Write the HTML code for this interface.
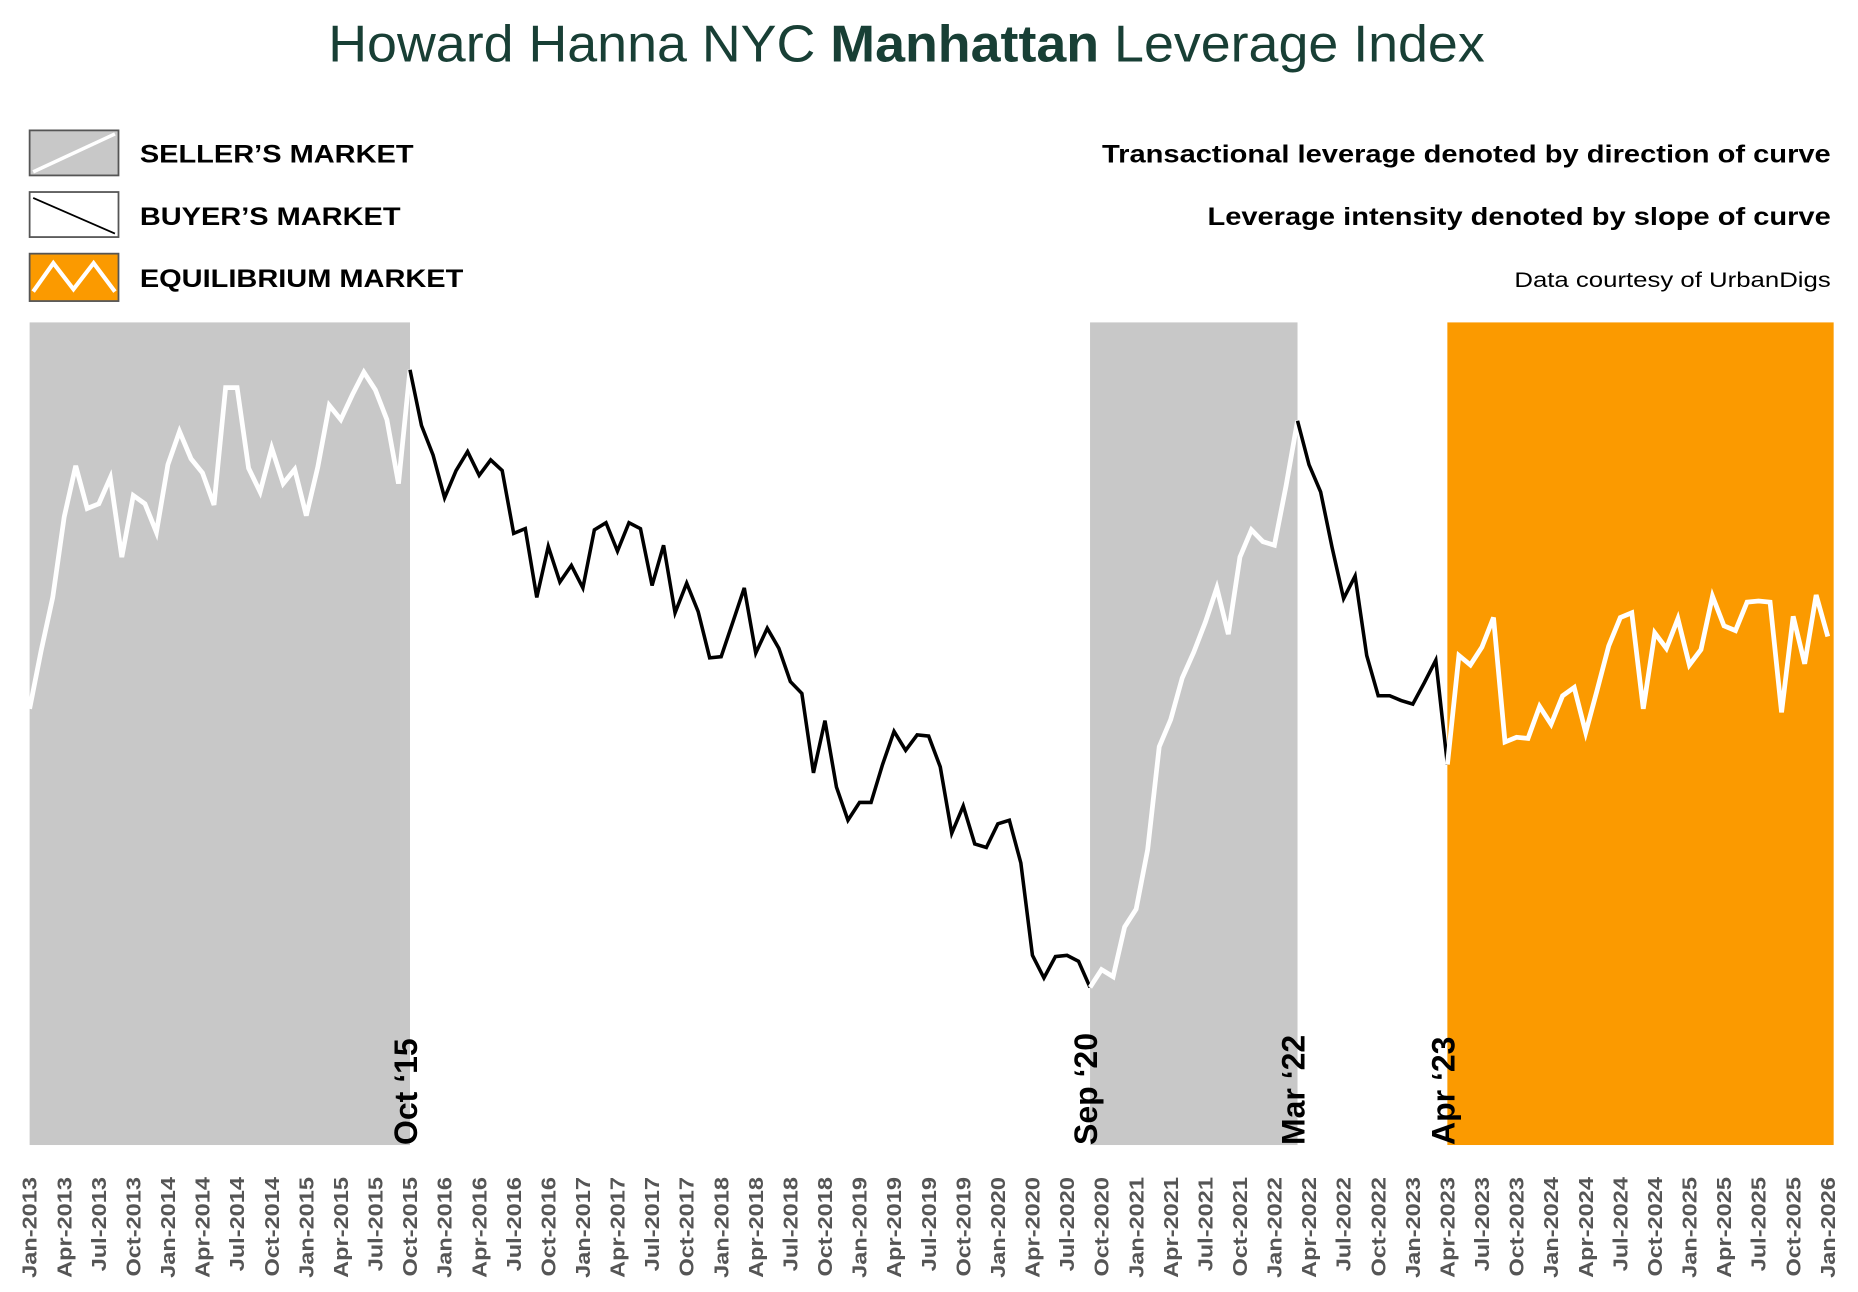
<!DOCTYPE html>
<html><head><meta charset="utf-8"><style>
html,body{margin:0;padding:0;background:#fff;}
svg{display:block;font-family:"Liberation Sans",Arial,sans-serif;}
</style></head><body>
<svg id="chart" width="1858" height="1292" viewBox="0 0 1568 1090" preserveAspectRatio="none" xmlns="http://www.w3.org/2000/svg">
<text x="277" y="52" font-size="44" fill="#183f35" textLength="976" lengthAdjust="spacingAndGlyphs">Howard Hanna NYC <tspan font-weight="bold">Manhattan</tspan> Leverage Index</text>
<g>
 <g>
  <rect x="25" y="110" width="75" height="38" fill="#c8c8c8" stroke="#555" stroke-width="1.5"/>
  <line x1="28" y1="145" x2="97" y2="113" stroke="#fff" stroke-width="3"/>
  <text x="118" y="137" font-size="21" font-weight="bold" textLength="231" lengthAdjust="spacingAndGlyphs">SELLER’S MARKET</text>
 </g>
 <g>
  <rect x="25" y="162" width="75" height="38" fill="#fff" stroke="#555" stroke-width="1.5"/>
  <line x1="28" y1="167" x2="97" y2="197" stroke="#000" stroke-width="1.5"/>
  <text x="118" y="190" font-size="21" font-weight="bold" textLength="220" lengthAdjust="spacingAndGlyphs">BUYER’S MARKET</text>
 </g>
 <g>
  <rect x="25" y="214" width="75" height="40" fill="#fb9a00" stroke="#555" stroke-width="1.5"/>
  <polyline points="28,246 45,222 62,244 79,222 97,246" fill="none" stroke="#fff" stroke-width="3.5"/>
  <text x="118" y="242" font-size="21" font-weight="bold" textLength="273" lengthAdjust="spacingAndGlyphs">EQUILIBRIUM MARKET</text>
 </g>
</g>
<text x="930" y="137" font-size="21" font-weight="bold" textLength="615" lengthAdjust="spacingAndGlyphs">Transactional leverage denoted by direction of curve</text>
<text x="1019" y="190" font-size="21" font-weight="bold" textLength="526" lengthAdjust="spacingAndGlyphs">Leverage intensity denoted by slope of curve</text>
<text x="1278" y="242" font-size="18" textLength="267" lengthAdjust="spacingAndGlyphs">Data courtesy of UrbanDigs</text>
<g id="regions"></g>
<g id="lines"></g>
<g id="events"></g>
<g id="ticks"></g>
</svg>
<script>
const startYear = 2013;
const monthNames = ["Jan","Apr","Jul","Oct"];
const values = [368,417,462,530,573,537,541,563,496,548,541,517,574,602,579,567,540,639,639,571,551,588,558,570,531,572,624,612,633,652,637,612,558,654,
607,582,546,569,585,565,578,569,516,520,462,505,475,489,470,519,525,501,525,520,472,506,449,474,450,411,412,441,470,415,436,419,391,381,314,358,302,
274,289,289,321,349,333,346,345,319,263,286,254,251,271,274,238,160,141,159,160,155,133,
148,142,184,199,249,336,359,394,416,441,470,431,496,519,509,506,556,611,
574,551,504,461,480,413,379,379,375,372,390,409,321,
413,405,420,445,340,344,343,370,355,379,386,348,384,421,445,449,368,432,419,444,405,418,463,438,434,458,459,458,365,446,406,464,429];
const segStarts = [0,33,92,110,123];
const segEnds = [33,92,110,123,156];
const segTypes = ["seller","buyer","seller","buyer","equilibrium"];
const eventLabels = ["Oct ‘15","Sep ‘20","Mar ‘22","Apr ‘23"];
const eventMonths = [33,92,110,123];

const NS="http://www.w3.org/2000/svg";
const X0=25, MW=(346-25)/33, YB=966, YT=272, VMAX=694;
const xs=i=>X0+i*MW;
const ys=v=>YB-(v/VMAX)*(YB-YT);
const fills={seller:"#c8c8c8",buyer:"none",equilibrium:"#fb9a00"};
const strokes={seller:"#fff",buyer:"#000",equilibrium:"#fff"};
const widths={seller:4,buyer:3,equilibrium:4};
const regions=document.getElementById('regions');
const lines=document.getElementById('lines');
segStarts.forEach((s,k)=>{
  const e=segEnds[k], t=segTypes[k];
  if(fills[t]!=="none"){
    const r=document.createElementNS(NS,'rect');
    r.setAttribute('x',xs(s)); r.setAttribute('y',YT);
    r.setAttribute('width',xs(e)-xs(s)+(k===4?5:0)); r.setAttribute('height',YB-YT);
    r.setAttribute('fill',fills[t]);
    
    
    regions.appendChild(r);
  }
  const p=document.createElementNS(NS,'polyline');
  const pts=[];
  for(let i=s;i<=e;i++) pts.push(xs(i).toFixed(1)+','+ys(values[i]).toFixed(1));
  p.setAttribute('points',pts.join(' '));
  p.setAttribute('fill','none'); p.setAttribute('stroke',strokes[t]);
  p.setAttribute('stroke-width',widths[t]); p.setAttribute('stroke-linejoin','miter');
  
  
  lines.appendChild(p);
});
const ev=document.getElementById('events');
eventMonths.forEach((m,k)=>{
  const x=xs(m)+6;
  const t=document.createElementNS(NS,'text');
  t.setAttribute('transform','translate('+x+','+YB+') rotate(-90)');
  t.setAttribute('font-size','27'); t.setAttribute('font-weight','bold');
  t.textContent=eventLabels[k];
  
  
  ev.appendChild(t);
});
const tk=document.getElementById('ticks');
for(let i=0;i<=156;i+=3){
  const lbl=monthNames[(i/3)%4]+'-'+(startYear+Math.floor(i/12));
  const t=document.createElementNS(NS,'text');
  t.setAttribute('transform','translate('+(xs(i)+6)+',993) rotate(-90) scale(1.17,1)');
  t.setAttribute('text-anchor','end');
  t.setAttribute('font-size','17'); t.setAttribute('font-weight','bold'); t.setAttribute('fill','#555');
  t.textContent=lbl;
  
  
  tk.appendChild(t);
}
</script>
</body></html>
